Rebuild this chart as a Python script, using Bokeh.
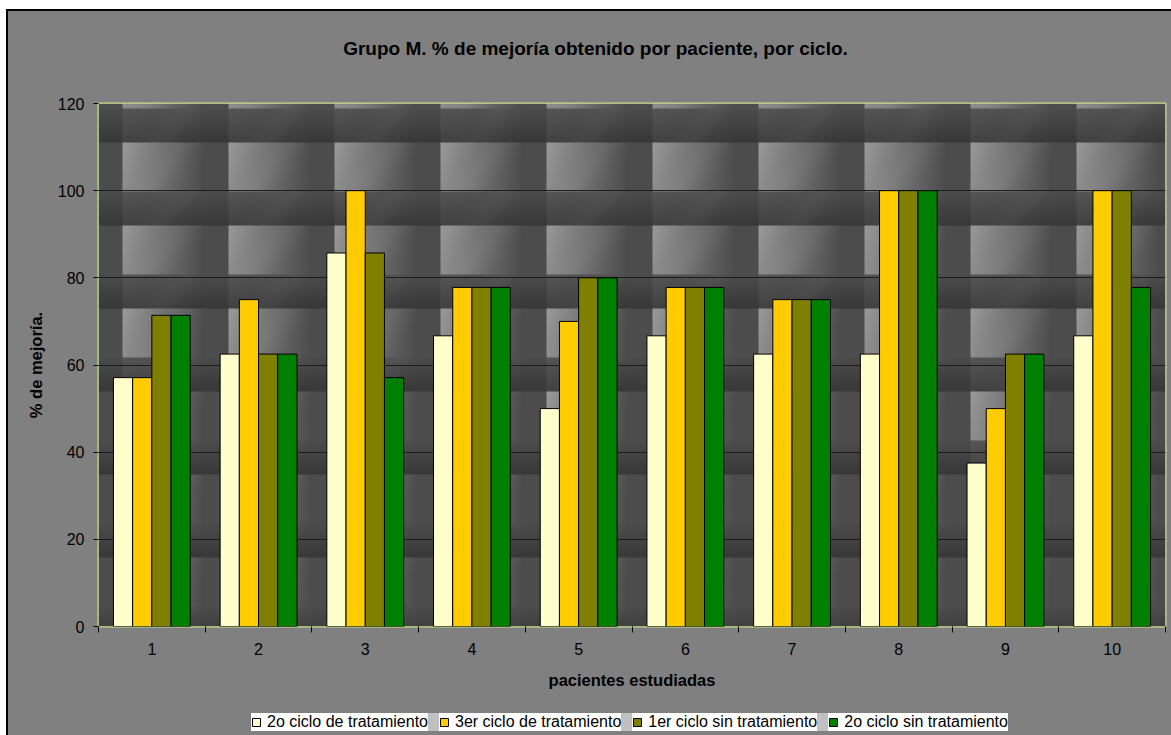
import numpy as np
from bokeh.plotting import figure
from bokeh.layouts import column
from bokeh.models import ColumnDataSource, FixedTicker, Legend, LegendItem, Label
from bokeh.transform import dodge
from bokeh.embed import file_html
from bokeh.resources import INLINE

# --- data -------------------------------------------------------------
pacientes = [1, 2, 3, 4, 5, 6, 7, 8, 9, 10]
ciclo2_tratamiento = [57.1, 62.5, 85.7, 66.7, 50.0, 66.7, 62.5, 62.5, 37.5, 66.7]
ciclo3_tratamiento = [57.1, 75.0, 100.0, 77.8, 70.0, 77.8, 75.0, 100.0, 50.0, 100.0]
ciclo1_sin_tratamiento = [71.4, 62.5, 85.7, 77.8, 80.0, 77.8, 75.0, 100.0, 62.5, 100.0]
ciclo2_sin_tratamiento = [71.4, 62.5, 57.1, 77.8, 80.0, 77.8, 75.0, 100.0, 62.5, 77.8]

series_names = ["2o ciclo de tratamiento", "3er ciclo de tratamiento",
                "1er ciclo sin tratamiento", "2o ciclo sin tratamiento"]
series_keys = ["c2t", "c3t", "c1s", "c2s"]
series_colors = ["#FFFFCC", "#FFCC00", "#808000", "#008000"]
y_ticks = [0, 20, 40, 60, 80, 100, 120]

title_text = "Grupo M. % de mejoría obtenido por paciente, por ciclo."
x_title = "pacientes estudiadas"
y_title = "% de mejoría."

FONT = "Liberation Sans"
BG = "#808080"
WIDTH = 1163
TITLE_H, MAIN_H, LEGEND_H = 60, 625, 39
FRAME_L, FRAME_R, FRAME_T, FRAME_B = 90, 1157, 32, 555   # inside the main canvas


def strip(height):
    """axis-less band used for the title and legend rows (frames line up with the chart's)"""
    f = figure(width=WIDTH, height=height, x_range=(0, 1), y_range=(0, 1),
               output_backend="svg", toolbar_location=None,
               x_axis_location=None, y_axis_location=None,
               min_border_left=FRAME_L, min_border_right=WIDTH - FRAME_R,
               min_border_top=0, min_border_bottom=0,
               border_fill_color=None, background_fill_color=None)
    f.grid.visible = False
    f.outline_line_color = None
    f.title = None
    return f


# --- title row ---------------------------------------------------------
top = strip(TITLE_H)
top.add_layout(Label(x=587 - FRAME_L, y=TITLE_H - 37, x_units="screen", y_units="screen",
                     text=title_text, text_font=FONT, text_font_size="19px",
                     text_font_style="bold", text_color="black",
                     text_align="center", text_baseline="middle"))

# --- main chart --------------------------------------------------------
source = ColumnDataSource(dict(
    x=pacientes,
    c2t=ciclo2_tratamiento,
    c3t=ciclo3_tratamiento,
    c1s=ciclo1_sin_tratamiento,
    c2s=ciclo2_sin_tratamiento,
))

p = figure(
    width=WIDTH, height=MAIN_H,
    x_range=(0.5, 10.5), y_range=(0, 120),
    output_backend="svg", toolbar_location=None,
    min_border_left=FRAME_L, min_border_right=WIDTH - FRAME_R,
    min_border_top=FRAME_T, min_border_bottom=MAIN_H - FRAME_B,
    border_fill_color=None, background_fill_color="#4a4a4a",
)
p.title = None
p.outline_line_color = "#C8E48A"
p.outline_line_width = 2

# tiled grey backdrop of the plot area
W, H = FRAME_R - FRAME_L, FRAME_B - FRAME_T
u = ((np.arange(W) - 24) % 106).astype(float)
v = ((np.arange(H) - 39) % 83).astype(float)
U, V = np.meshgrid(u, v)
fall = np.clip(1 - U / 82.0, 0, 1)
light_band = 76 + (153 - 76) * fall - 12 * (V / 49.0) * fall
w = np.clip((V - 49) / 34.0, 0, 1)
dark_band = 86 - 20 * w - 10 * (1 - fall)
g = np.where(V < 49, light_band, dark_band)
band_v = np.where(V < 49, V, V - 49)
g += 6 * np.exp(-((U + 0.8 * band_v) - 62) ** 2 / 260.0) * (U < 82)
g = np.clip(g, 0, 255).astype(np.uint8)

img = np.empty((H, W), dtype=np.uint32)
view = img.view(dtype=np.uint8).reshape((H, W, 4))
view[..., 0] = g
view[..., 1] = g
view[..., 2] = g
view[..., 3] = 255
p.image_rgba(image=[img[::-1]], x=0.5, y=0, dw=10, dh=120, level="image")

# bars
offsets = [-0.27, -0.09, 0.09, 0.27]
for key, color, off in zip(series_keys, series_colors, offsets):
    p.vbar(x=dodge("x", off, range=p.x_range), top=key, width=0.18, bottom=0,
           source=source, fill_color=color, line_color="black", line_width=1)

# axes / grid
p.xgrid.visible = False
p.ygrid.ticker = FixedTicker(ticks=y_ticks)
p.ygrid.grid_line_color = "#1c1c1c"
p.ygrid.grid_line_width = 1

xa = p.xaxis[0]
xa.ticker = FixedTicker(ticks=pacientes, minor_ticks=[k + 0.5 for k in range(0, 11)])
xa.axis_line_color = None
xa.major_tick_line_color = None
xa.major_tick_in = 0
xa.major_tick_out = 6
xa.minor_tick_in = 0
xa.minor_tick_out = 6
xa.minor_tick_line_color = "black"
xa.major_label_standoff = 10
xa.major_label_text_font = FONT
xa.major_label_text_font_size = "16px"
xa.major_label_text_color = "black"
xa.axis_label = x_title
xa.axis_label_text_font = FONT
xa.axis_label_text_font_size = "16.5px"
xa.axis_label_text_font_style = "bold"
xa.axis_label_text_color = "black"
xa.axis_label_standoff = 13

ya = p.yaxis[0]
ya.ticker = FixedTicker(ticks=y_ticks)
ya.axis_line_color = None
ya.major_tick_in = 0
ya.major_tick_out = 5
ya.major_tick_line_color = "black"
ya.minor_tick_line_color = None
ya.major_label_standoff = 9
ya.major_label_text_font = FONT
ya.major_label_text_font_size = "16px"
ya.major_label_text_color = "black"
ya.axis_label = y_title
ya.axis_label_text_font = FONT
ya.axis_label_text_font_size = "16.5px"
ya.axis_label_text_font_style = "bold"
ya.axis_label_text_color = "black"
ya.axis_label_standoff = 10

# --- legend row --------------------------------------------------------
# key swatches come from hidden per-series bar renderers in this strip
bottom = strip(LEGEND_H)
keys = []
for name, color in zip(series_names, series_colors):
    r = bottom.vbar(x=[0.5], top=[0.5], bottom=[0.4], width=0.005, fill_color=color,
                    line_color="black", line_width=1, visible=False)
    keys.append(LegendItem(label=name, renderers=[r]))

legend = Legend(
    items=keys, orientation="horizontal", location=(243 - FRAME_L, 4),
    background_fill_color="#C0C0C0", background_fill_alpha=1.0,
    border_line_color=None,
    padding=3, spacing=11, margin=0,
    glyph_width=10, glyph_height=10, label_standoff=6, label_height=18,
    label_text_font=FONT, label_text_font_size="16px", label_text_color="black",
    item_background_policy="every", item_background_fill_color="white",
    item_background_fill_alpha=1.0,
)
bottom.add_layout(legend)

layout = column(top, p, bottom, spacing=0, margin=(9, 0, 0, 6),
                styles={"border-left": "2px solid black", "border-top": "2px solid black",
                        "background-color": BG})

open("out.html", "w").write(file_html(layout, INLINE))
